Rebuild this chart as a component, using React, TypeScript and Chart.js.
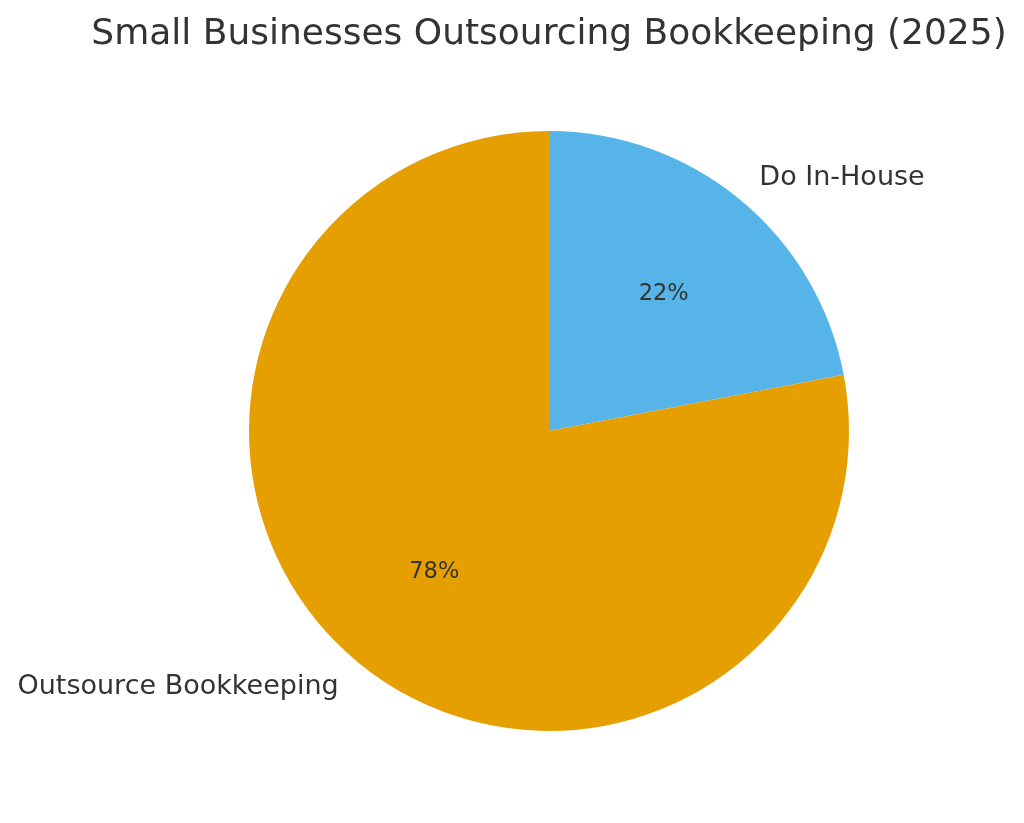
import { useEffect, useRef } from "react";
import { Chart, registerables } from "chart.js";
import type { Plugin as ChartPlugin } from "chart.js";

Chart.register(...registerables);

const title = "Small Businesses Outsourcing Bookkeeping (2025)";
const labels = ["Do In-House", "Outsource Bookkeeping"];
const shares = [22, 78];
const colors = ["#56B4E9", "#E69F00"];

const textColor = "#333333";
const fontFamily = "'DejaVu Sans', sans-serif";

// draws title, outer labels and percentages the way matplotlib places them
const pieTextPlugin: ChartPlugin = {
    id: "pieTextPlugin",
    afterDraw: (chart: Chart) => {
        const ctx = chart.ctx;
        const meta = chart.getDatasetMeta(0);
        const total = shares.reduce((a, b) => a + b, 0);
        ctx.save();
        ctx.fillStyle = textColor;

        const first: any = meta.data[0];
        const cx = first.x;
        const cy = first.y;
        const r = first.outerRadius;

        ctx.font = `36px ${fontFamily}`;
        ctx.textAlign = "center";
        ctx.textBaseline = "alphabetic";
        ctx.fillText(title, cx, 44);

        meta.data.forEach((el: any, i: number) => {
            const mid = (el.startAngle + el.endAngle) / 2;
            const cos = Math.cos(mid);
            const sin = Math.sin(mid);

            ctx.font = `27px ${fontFamily}`;
            ctx.textBaseline = "middle";
            ctx.textAlign = cos >= 0 ? "left" : "right";
            ctx.fillText(labels[i], cx + cos * r * 1.1, cy + sin * r * 1.1 + 1.5);

            ctx.font = `22.5px ${fontFamily}`;
            ctx.textAlign = "center";
            const pct = Math.round((shares[i] / total) * 100);
            ctx.fillText(`${pct}%`, cx + cos * r * 0.6, cy + sin * r * 0.6 + 2);
        });
        ctx.restore();
    }
};

function PieChart() {
    const canvasRef = useRef<HTMLCanvasElement>(null);

    useEffect(() => {
        if (!canvasRef.current) {
            return;
        }
        const chart = new Chart(canvasRef.current, {
            type: "pie",
            data: {
                labels: labels,
                datasets: [{
                    data: shares,
                    backgroundColor: colors,
                    borderWidth: 0,
                }]
            },
            options: {
                responsive: false,
                animation: false,
                layout: {
                    padding: { left: 249, right: 175, top: 131, bottom: 92 }
                },
                plugins: {
                    legend: { display: false },
                    tooltip: { enabled: false },
                    title: { display: false }
                }
            },
            plugins: [pieTextPlugin]
        });

        return () => {
            chart.destroy();
        };
    }, []);

    return <canvas ref={canvasRef} width={1024} height={823} />;
}

export default function App() {
    return (
        <div style={{ position: "absolute", left: 0, top: 0, width: 1024, height: 823, background: "#fff" }}>
            <PieChart />
        </div>
    );
}
